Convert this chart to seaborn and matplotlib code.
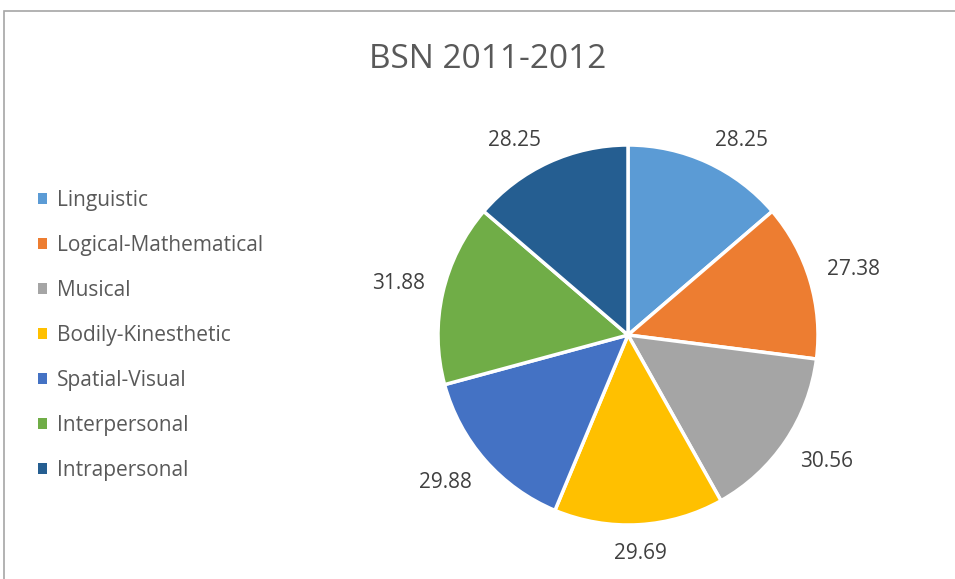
import numpy as np
import pandas as pd
import seaborn as sns
import matplotlib
matplotlib.use("Agg")
import matplotlib.pyplot as plt
from matplotlib.patches import Rectangle, Patch

sns.set_theme(style="white")
plt.rcParams['font.family'] = ['Open Sans', 'DejaVu Sans']

# data
categories = ['Linguistic', 'Logical-Mathematical', 'Musical', 'Bodily-Kinesthetic',
              'Spatial-Visual', 'Interpersonal', 'Intrapersonal']
scores = [28.25, 27.38, 30.56, 29.69, 29.88, 31.88, 28.25]
colors = sns.color_palette(['#5B9BD5', '#ED7D31', '#A5A5A5', '#FFC000',
                            '#4472C4', '#70AD47', '#255E91'])

df = pd.DataFrame({'category': categories, 'score': scores})

W, H = 955, 579
fig = plt.figure(figsize=(W / 100, H / 100), dpi=100)

# pie axes: centre ~ (628, 335) px, radius ~190 px
cx, cy, r = 628, 335, 190
ax = fig.add_axes([(cx - r) / W, (H - cy - r) / H, 2 * r / W, 2 * r / H])

wedges, texts = ax.pie(df['score'], colors=colors, startangle=90, counterclock=False,
                       labels=[f'{v:.2f}' for v in df['score']],
                       wedgeprops=dict(edgecolor='white', linewidth=2.5),
                       textprops=dict(color='#404040', fontsize=15))

# excel-like "outside end" labels: the box edge nearest the pie sits on a ring
ring = 1.095
for w, t in zip(wedges, texts):
    phi = np.deg2rad((w.theta1 + w.theta2) / 2)
    x, y = ring * np.cos(phi), ring * np.sin(phi)
    t.set_position((x, y))
    t.set_horizontalalignment('left' if x > 0.1 else 'right' if x < -0.1 else 'center')
    t.set_verticalalignment('baseline' if y > 0.1 else 'top' if y < -0.1 else 'center')

ax.set_xlim(-1, 1)
ax.set_ylim(-1, 1)
ax.set_aspect('equal')

# title
fig.text(488 / W, 1 - 59 / H, 'BSN 2011-2012', ha='center', va='center',
         fontsize=24, color='#595959')

# legend
handles = [Patch(facecolor=c, edgecolor='none') for c in colors]
fig.legend(handles, categories, loc='upper left', bbox_to_anchor=(38 / W, 1 - 190 / H),
           frameon=False, fontsize=15, labelcolor='#595959', handlelength=0.45,
           handleheight=0.45, handletextpad=0.45, labelspacing=1.15,
           borderpad=0, borderaxespad=0)

# chart-area border
fig.patches.append(Rectangle((4 / W, -0.1), 1.2, 1 - 11 / H + 0.1, transform=fig.transFigure,
                             fill=False, edgecolor='#a6a6a6', linewidth=1.2))

plt.savefig('out.png', dpi=100)
